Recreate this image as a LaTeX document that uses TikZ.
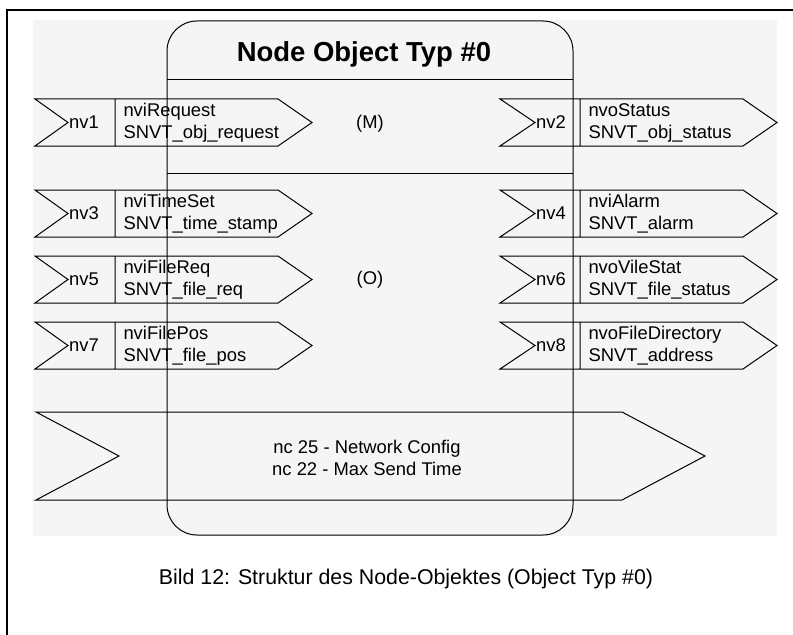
\documentclass[tikz,border=0pt]{standalone}
\usepackage{fontspec}
\setmainfont{Liberation Sans}
\begin{document}
\begin{tikzpicture}[x=0.75pt, y=-0.75pt, line width=0.75pt,
    nvtext/.style={anchor=west, align=left, inner sep=0pt, font=\fontsize{13.8}{16.5}\selectfont},
    nvlabel/.style={inner sep=0pt, font=\fontsize{13.8}{16.5}\selectfont}]
  \useasboundingbox (0,0) rectangle (793,635);
  \fill[black!4] (33,20) rectangle (777,536);
  \draw[line width=1.5pt] (7,635) -- (7,10) -- (793,10);

  % Objekt
  \draw[rounded corners=22.5pt] (167,21) rectangle (573,535);
  \draw (167,80) -- (573,80);
  \draw (167,173) -- (573,173);
  \node (titel) at (364,54) {\fontsize{20.6}{24}\selectfont\bfseries Node Object Typ \#0};
  \node[nvlabel] (mand) at (370,124) {(M)};
  \node[nvlabel] (opt) at (370,280) {(O)};

  % Eingaenge
  \draw (35,99) -- (278,99) -- (312,122.5) -- (278,146) -- (35,146) -- (68,122.5) -- cycle (115,99) -- (115,146);
  \node[nvlabel] (nv1) at (84,122.5) {nv1};
  \node[nvtext] (req) at (123,122.5) {nviRequest\\SNVT\_obj\_request};

  \draw (35,190) -- (278,190) -- (312,213.5) -- (278,237) -- (35,237) -- (68,213.5) -- cycle (115,190) -- (115,237);
  \node[nvlabel] (nv3) at (84,213.5) {nv3};
  \node[nvtext] (timeset) at (123,213.5) {nviTimeSet\\SNVT\_time\_stamp};

  \draw (35,256) -- (278,256) -- (312,279.5) -- (278,303) -- (35,303) -- (68,279.5) -- cycle (115,256) -- (115,303);
  \node[nvlabel] (nv5) at (84,279.5) {nv5};
  \node[nvtext] (filereq) at (123,279.5) {nviFileReq\\SNVT\_file\_req};

  \draw (35,322) -- (278,322) -- (312,345.5) -- (278,369) -- (35,369) -- (68,345.5) -- cycle (115,322) -- (115,369);
  \node[nvlabel] (nv7) at (84,345.5) {nv7};
  \node[nvtext] (filepos) at (123,345.5) {nviFilePos\\SNVT\_file\_pos};

  % Ausgaenge
  \draw (500,99) -- (743,99) -- (777,122.5) -- (743,146) -- (500,146) -- (535,122.5) -- cycle (580,99) -- (580,146);
  \node[nvlabel] (nv2) at (551,122.5) {nv2};
  \node[nvtext] (status) at (588,122.5) {nvoStatus\\SNVT\_obj\_status};

  \draw (500,190) -- (743,190) -- (777,213.5) -- (743,237) -- (500,237) -- (535,213.5) -- cycle (580,190) -- (580,237);
  \node[nvlabel] (nv4) at (551,213.5) {nv4};
  \node[nvtext] (alarm) at (588,213.5) {nviAlarm\\SNVT\_alarm};

  \draw (500,256) -- (743,256) -- (777,279.5) -- (743,303) -- (500,303) -- (535,279.5) -- cycle (580,256) -- (580,303);
  \node[nvlabel] (nv6) at (551,279.5) {nv6};
  \node[nvtext] (vilestat) at (588,279.5) {nvoVileStat\\SNVT\_file\_status};

  \draw (500,322) -- (743,322) -- (777,345.5) -- (743,369) -- (500,369) -- (535,345.5) -- cycle (580,322) -- (580,369);
  \node[nvlabel] (nv8) at (551,345.5) {nv8};
  \node[nvtext] (filedir) at (588,345.5) {nvoFileDirectory\\SNVT\_address};

  % Konfiguration
  \draw (36,412) -- (622,412) -- (705,456) -- (622,500) -- (36,500) -- (119,456) -- cycle;
  \node[nvlabel, align=center] (config) at (367,458) {nc 25 - Network Config\\nc 22 - Max Send Time};

  \node (bild) at (406,579) {\fontsize{16}{19}\selectfont Bild 12: Struktur des Node-Objektes (Object Typ \#0)};
\end{tikzpicture}
\end{document}
